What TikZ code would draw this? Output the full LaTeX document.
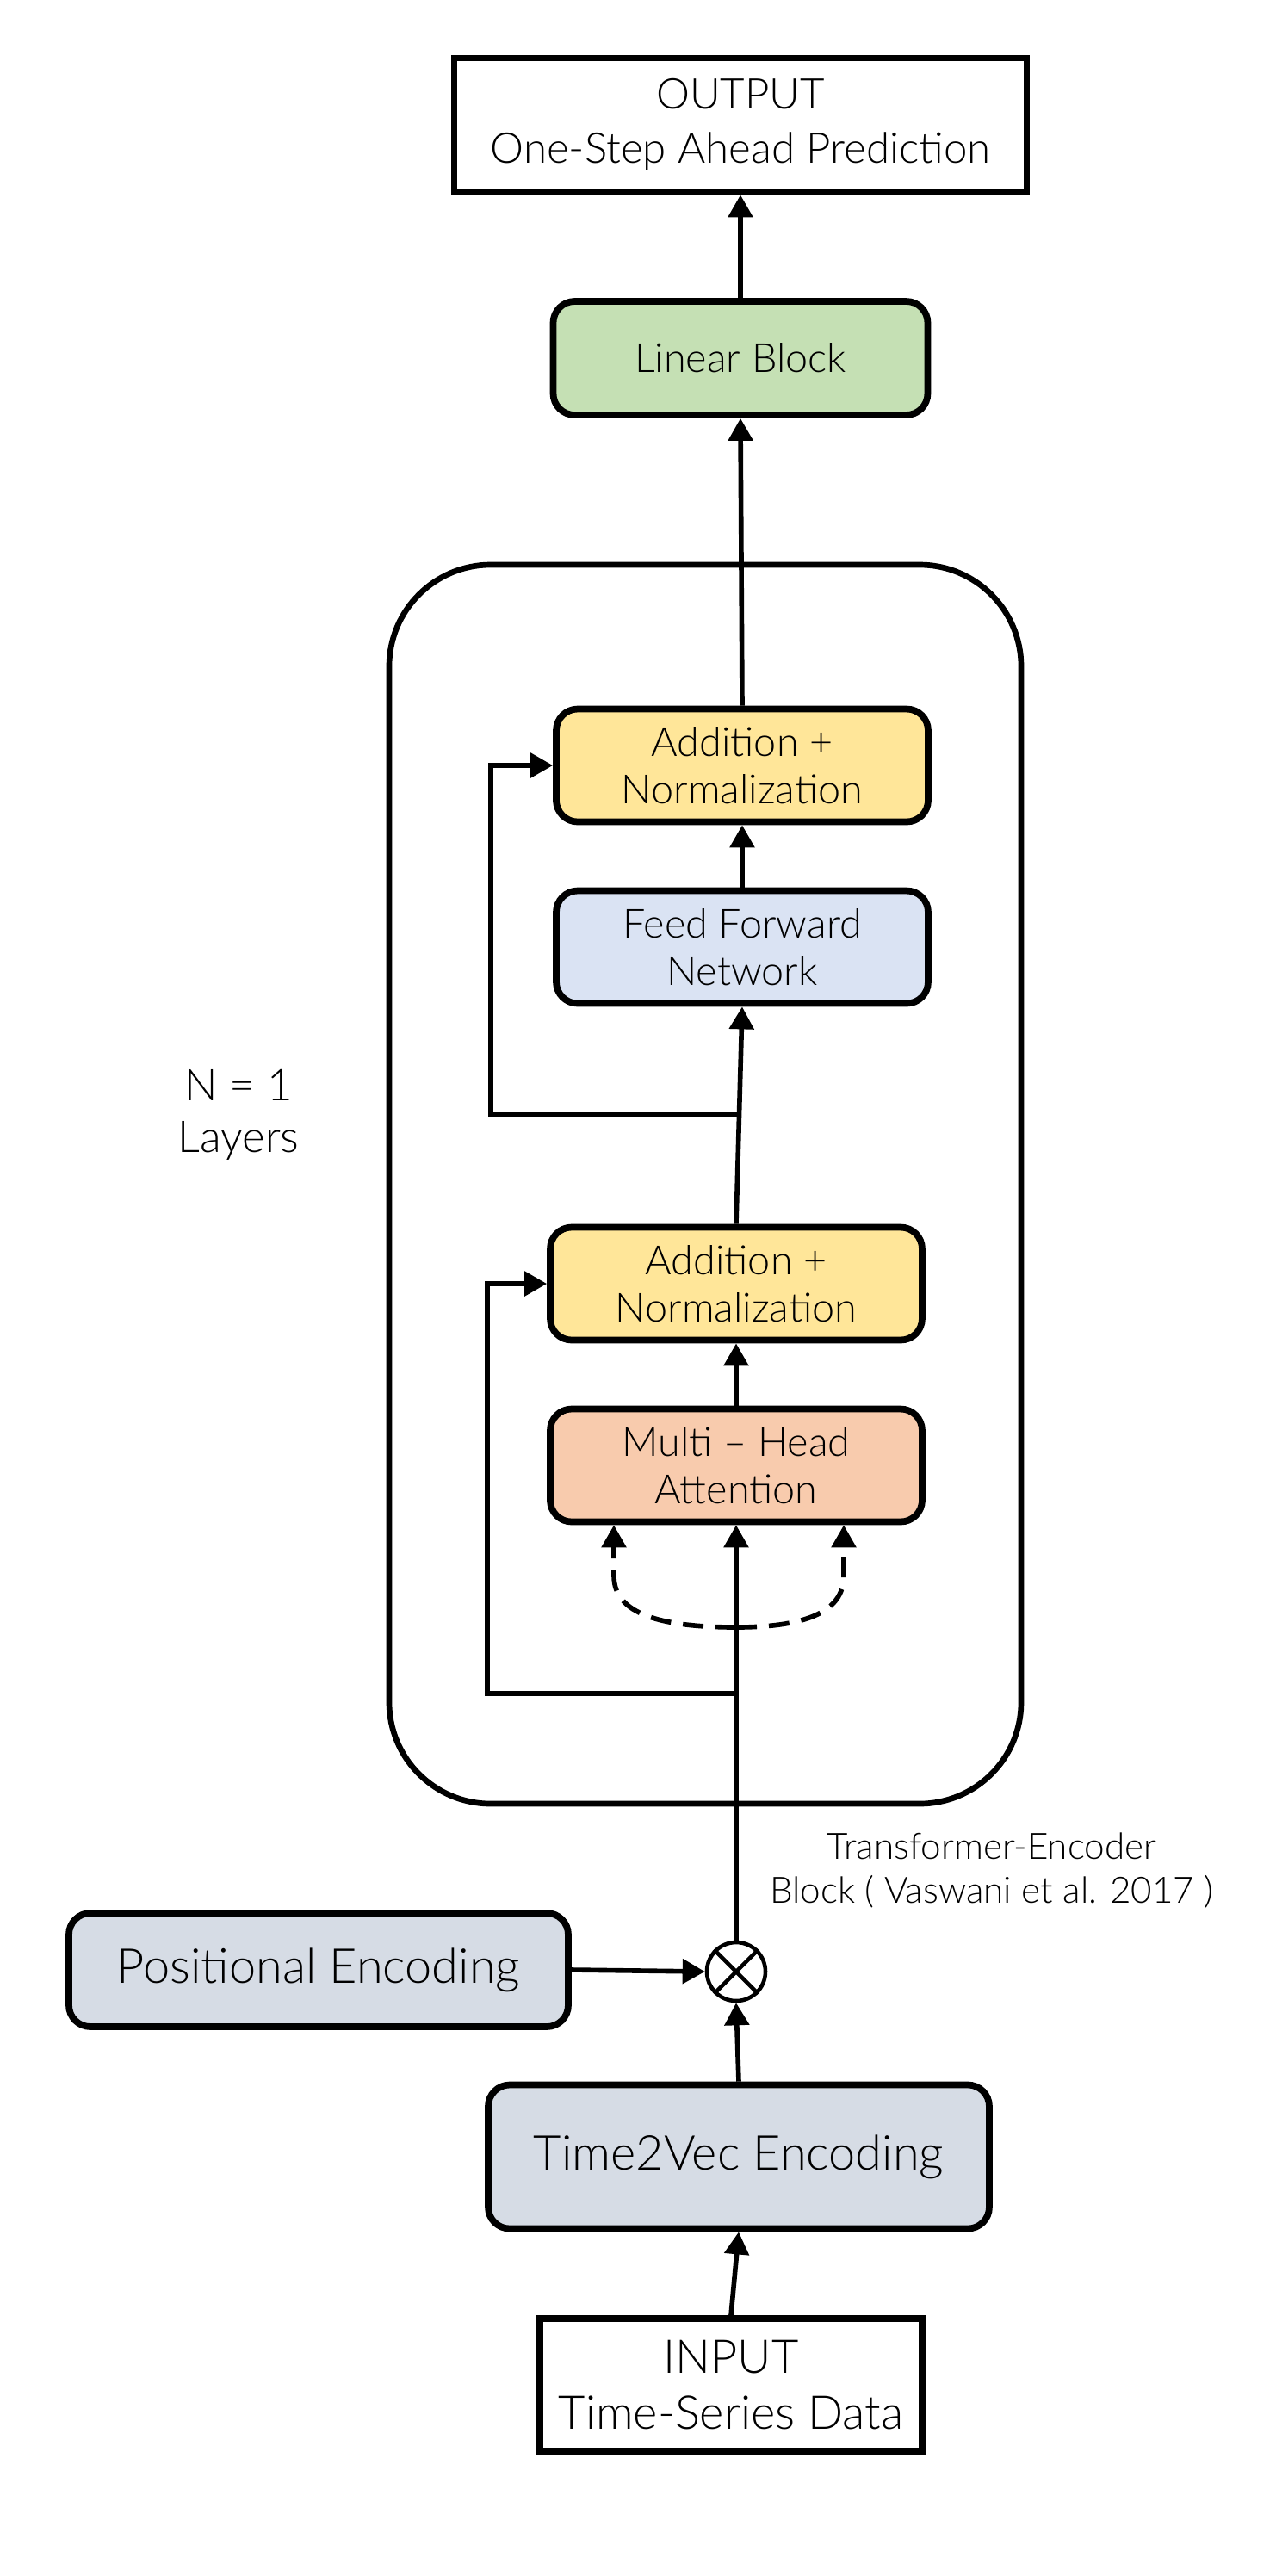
\documentclass[tikz,border=0pt]{standalone}
\usepackage{fontspec}
\IfFontExistsTF{Lato Light}{\setmainfont{Lato Light}}{\setmainfont{Lato}}
\usepackage{xcolor}
\usepackage{tikz}
\usetikzlibrary{arrows.meta}

\definecolor{lingreen}{HTML}{C5E0B4}
\definecolor{addyellow}{HTML}{FFE699}
\definecolor{ffblue}{HTML}{DAE3F3}
\definecolor{attorange}{HTML}{F8CBAD}
\definecolor{encgray}{HTML}{D6DCE5}

\begin{document}
\begin{tikzpicture}[
	blk/.style={draw, line width=2.2pt, rounded corners=0.25cm, align=center, inner sep=0pt,
		minimum width=4.32cm, minimum height=1.31cm, font=\fontsize{13.3}{15.5}\selectfont},
	plainbox/.style={draw, line width=2.2pt, align=center, inner sep=0pt, font=\fontsize{14}{18}\selectfont},
	arr/.style={line width=1.6pt, -{Triangle[length=0.26cm,width=0.28cm]}},
	dsh/.style={arr, dash pattern=on 0.24cm off 0.14cm}
]

\useasboundingbox (0,0) rectangle (14.82,-29.92);

\draw[line width=1.9pt, rounded corners=1.18cm] (4.52,-6.56) rectangle (11.86,-20.95);

\node[plainbox, minimum width=6.65cm, minimum height=1.55cm] (out) at (8.60,-1.45) {OUTPUT\\One-Step Ahead Prediction};
\node[blk, fill=lingreen, minimum width=4.35cm, minimum height=1.32cm] (lin) at (8.60,-4.16) {Linear Block};

\node[blk, fill=addyellow] (an2) at (8.62,-8.89) {Addition +\\Normalization};
\node[blk, fill=ffblue] (ffn) at (8.62,-11.00) {Feed Forward\\Network};
\node[blk, fill=addyellow] (an1) at (8.55,-14.91) {Addition +\\Normalization};
\node[blk, fill=attorange] (mha) at (8.55,-17.02) {Multi – Head\\Attention};

\node[blk, fill=encgray, minimum width=5.80cm, minimum height=1.32cm, font=\fontsize{15.9}{18}\selectfont] (pe) at (3.70,-22.88) {Positional Encoding};
\node[draw, circle, line width=1.3pt, fill=white, minimum size=0.68cm, inner sep=0pt] (ot) at (8.55,-22.90) {};
\draw[line width=1.3pt] (ot.45) -- (ot.225) (ot.135) -- (ot.315);
\node[blk, fill=encgray, minimum width=5.82cm, minimum height=1.67cm, font=\fontsize{15.9}{18}\selectfont] (t2v) at (8.58,-25.05) {Time2Vec Encoding};
\node[plainbox, minimum width=4.44cm, minimum height=1.54cm, font=\fontsize{15.4}{18.5}\selectfont] (inp) at (8.49,-27.70) {INPUT\\Time-Series Data};

\node[align=center, font=\fontsize{14.5}{17}\selectfont] (nl) at (2.77,-12.95) {N = 1\\Layers};
\node[align=center, font=\fontsize{12}{14.5}\selectfont] (teb) at (11.52,-21.72) {Transformer-Encoder\\Block ( Vaswani et al. 2017 )};

\draw[arr] (inp.north) -- (t2v.south);
\draw[arr] (t2v.north) -- (ot.south);
\draw[arr] (pe.east) -- (ot.west);
\draw[arr] (ot.north) -- (mha.south);
\draw[arr] (mha.north) -- (an1.south);
\draw[arr] (an1.north) -- (ffn.south);
\draw[arr] (ffn.north) -- (an2.south);
\draw[arr] (an2.north) -- (lin.south);
\draw[arr] (lin.north) -- (out.south);

\coordinate (br1) at (8.55,-19.67);
\coordinate (sk1) at (5.66,-19.67);
\draw[arr] (br1) -- (sk1) |- (an1.west);

\coordinate (br2) at (8.58,-12.94);
\coordinate (sk2) at (5.70,-12.94);
\draw[arr] (br2) -- (sk2) |- (an2.west);

\coordinate (dbot) at (8.55,-18.90);
\coordinate (dl) at (7.13,-18.30);
\coordinate (dr) at (9.80,-18.30);
\draw[dsh] (dbot) .. controls (7.45,-18.90) and (7.13,-18.65) .. (dl) -- (mha.south -| dl);
\draw[dsh] (dbot) .. controls (9.50,-18.90) and (9.80,-18.65) .. (dr) -- (mha.south -| dr);

\end{tikzpicture}
\end{document}
